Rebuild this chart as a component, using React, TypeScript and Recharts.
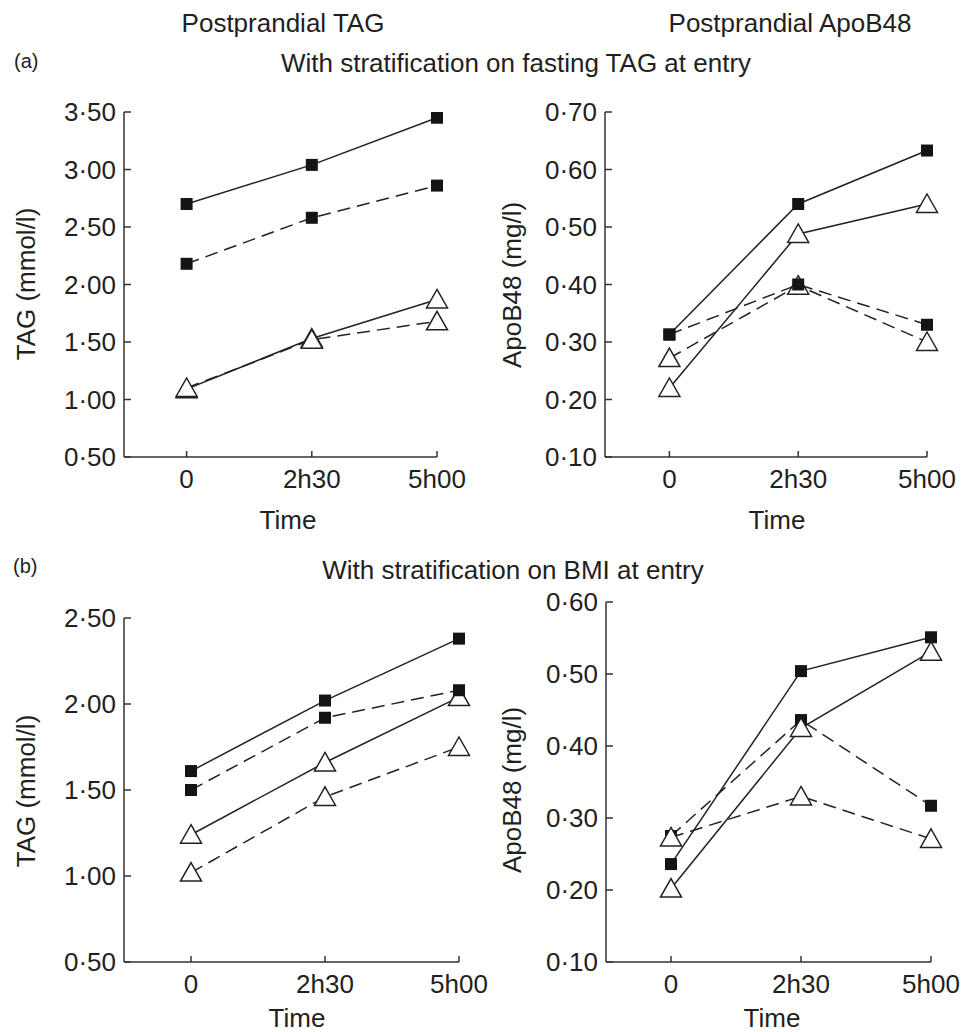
import React from 'react';
import { LineChart, Line, XAxis, YAxis } from 'recharts';

// time points on the x axis
const timeLabels = ['0', '2h30', '5h00'];

// (a) stratification on fasting TAG at entry
const aTagSolidSquare = [2.7, 3.04, 3.45];
const aTagDashedSquare = [2.18, 2.58, 2.86];
const aTagSolidTriangle = [1.09, 1.53, 1.87];
const aTagDashedTriangle = [1.1, 1.52, 1.68];

const aApoSolidSquare = [0.313, 0.54, 0.633];
const aApoDashedSquare = [0.313, 0.4, 0.33];
const aApoSolidTriangle = [0.22, 0.488, 0.54];
const aApoDashedTriangle = [0.272, 0.398, 0.3];

// (b) stratification on BMI at entry
const bTagSolidSquare = [1.61, 2.02, 2.38];
const bTagDashedSquare = [1.5, 1.92, 2.08];
const bTagSolidTriangle = [1.24, 1.66, 2.04];
const bTagDashedTriangle = [1.02, 1.46, 1.75];

const bApoSolidSquare = [0.236, 0.504, 0.551];
const bApoDashedSquare = [0.275, 0.436, 0.317];
const bApoSolidTriangle = [0.202, 0.425, 0.531];
const bApoDashedTriangle = [0.273, 0.33, 0.271];

// y tick values
const tagTicksA = [0.5, 1.0, 1.5, 2.0, 2.5, 3.0, 3.5];
const apoTicksA = [0.1, 0.2, 0.3, 0.4, 0.5, 0.6, 0.7];
const tagTicksB = [0.5, 1.0, 1.5, 2.0, 2.5];
const apoTicksB = [0.1, 0.2, 0.3, 0.4, 0.5, 0.6];

const INK = '#231f20';
const FONT = '"Liberation Sans", Arial, Helvetica, sans-serif';

const buildRows = (ss: number[], ds: number[], st: number[], dt: number[]) =>
  timeLabels.map((time, i) => ({ time, ss: ss[i], ds: ds[i], st: st[i], dt: dt[i] }));

const fmt = (v: number) => v.toFixed(2).replace('.', '\u00b7');

const Square = (p: any) => {
  if (p.cx == null || p.cy == null) return <g key={`sq-${p.index}`} />;
  return <rect key={`sq-${p.index}`} x={p.cx - 6} y={p.cy - 6} width={12} height={12} fill="#141414" />;
};

const Triangle = (p: any) => {
  if (p.cx == null || p.cy == null) return <g key={`tr-${p.index}`} />;
  const { cx, cy } = p;
  return (
    <polygon
      key={`tr-${p.index}`}
      points={`${cx},${cy - 10} ${cx + 10.5},${cy + 8.5} ${cx - 10.5},${cy + 8.5}`}
      fill="#fff"
      stroke="#222"
      strokeWidth={1.5}
    />
  );
};

interface Frame {
  fx: number; fy: number; fw: number; fh: number;
  l: number; r: number; t: number; b: number; pad: number;
}

interface PanelProps {
  frame: Frame;
  data: any[];
  domain: [number, number];
  ticks: number[];
  trianglesOnTop?: boolean;
}

const X_AXIS_H = 44;

const Panel: React.FC<PanelProps> = ({ frame, data, domain, ticks, trianglesOnTop }) => {
  const { fx, fy, fw, fh, l, r, t, b, pad } = frame;
  const triangles = [
    <Line key="st" dataKey="st" stroke="#222" strokeWidth={1.5} dot={Triangle} activeDot={false} isAnimationActive={false} />,
    <Line key="dt" dataKey="dt" stroke="#222" strokeWidth={1.5} strokeDasharray="13 7" dot={Triangle} activeDot={false} isAnimationActive={false} />,
  ];
  const squares = [
    <Line key="ss" dataKey="ss" stroke="#222" strokeWidth={1.5} dot={Square} activeDot={false} isAnimationActive={false} />,
    <Line key="ds" dataKey="ds" stroke="#222" strokeWidth={1.5} strokeDasharray="13 7" dot={Square} activeDot={false} isAnimationActive={false} />,
  ];
  return (
    <div style={{ position: 'absolute', left: fx, top: fy }}>
      <LineChart
        width={fw}
        height={fh}
        data={data}
        margin={{ top: t - fy, right: fx + fw - r, left: 0, bottom: fy + fh - b - X_AXIS_H }}
      >
        <XAxis
          dataKey="time"
          padding={{ left: pad, right: 0 }}
          height={X_AXIS_H}
          interval={0}
          tickSize={-6}
          tickMargin={18.5}
          stroke="#333"
          strokeWidth={1.5}
          tick={{ fill: INK, fontSize: 26, fontFamily: FONT }}
        />
        <YAxis
          type="number"
          domain={domain}
          ticks={ticks}
          width={l - fx}
          interval={0}
          tickSize={-7}
          tickMargin={15}
          tickFormatter={fmt}
          stroke="#333"
          strokeWidth={1.5}
          allowDataOverflow
          tick={{ fill: INK, fontSize: 26, fontFamily: FONT }}
        />
        {trianglesOnTop ? [...squares, ...triangles] : [...triangles, ...squares]}
      </LineChart>
    </div>
  );
};

const App: React.FC = () => {
  const aTag = buildRows(aTagSolidSquare, aTagDashedSquare, aTagSolidTriangle, aTagDashedTriangle);
  const aApo = buildRows(aApoSolidSquare, aApoDashedSquare, aApoSolidTriangle, aApoDashedTriangle);
  const bTag = buildRows(bTagSolidSquare, bTagDashedSquare, bTagSolidTriangle, bTagDashedTriangle);
  const bApo = buildRows(bApoSolidSquare, bApoDashedSquare, bApoSolidTriangle, bApoDashedTriangle);

  const txt = { fill: INK, fontFamily: FONT, fontSize: 26 };

  return (
    <div style={{ position: 'absolute', left: 0, top: 0, width: 963, height: 1032, background: '#fff', overflow: 'hidden' }}>
      <svg width={963} height={1032} style={{ position: 'absolute', left: 0, top: 0 }}>
        <text x={283} y={32} textAnchor="middle" {...txt}>Postprandial TAG</text>
        <text x={790} y={32} textAnchor="middle" {...txt}>Postprandial ApoB48</text>
        <text x={14} y={68} {...txt} fontSize={20}>(a)</text>
        <text x={516} y={72} textAnchor="middle" {...txt}>With stratification on fasting TAG at entry</text>
        <text x={13} y={573} {...txt} fontSize={20}>(b)</text>
        <text x={513} y={579} textAnchor="middle" {...txt}>With stratification on BMI at entry</text>
        <text x={288} y={529} textAnchor="middle" {...txt}>Time</text>
        <text x={777} y={529} textAnchor="middle" {...txt}>Time</text>
        <text x={297} y={1027} textAnchor="middle" {...txt}>Time</text>
        <text x={772} y={1027} textAnchor="middle" {...txt}>Time</text>
        <text x={26} y={284} dy="0.35em" textAnchor="middle" transform="rotate(-90 26 284)" {...txt}>TAG (mmol/l)</text>
        <text x={512} y={285} dy="0.35em" textAnchor="middle" transform="rotate(-90 512 285)" {...txt}>ApoB48 (mg/l)</text>
        <text x={26} y={791} dy="0.35em" textAnchor="middle" transform="rotate(-90 26 791)" {...txt}>TAG (mmol/l)</text>
        <text x={512} y={790} dy="0.35em" textAnchor="middle" transform="rotate(-90 512 790)" {...txt}>ApoB48 (mg/l)</text>
      </svg>
      <Panel frame={{ fx: 0, fy: 80, fw: 500, fh: 460, l: 124, r: 437, t: 112, b: 457, pad: 62.6 }} data={aTag} domain={[0.5, 3.5]} ticks={tagTicksA} />
      <Panel frame={{ fx: 480, fy: 80, fw: 483, fh: 460, l: 605, r: 927, t: 112, b: 457, pad: 64.4 }} data={aApo} domain={[0.1, 0.7]} ticks={apoTicksA} />
      <Panel frame={{ fx: 0, fy: 585, fw: 500, fh: 440, l: 124, r: 459, t: 618, b: 962, pad: 67 }} data={bTag} domain={[0.5, 2.5]} ticks={tagTicksB} />
      <Panel frame={{ fx: 480, fy: 585, fw: 483, fh: 440, l: 606, r: 931, t: 602, b: 962, pad: 65 }} data={bApo} domain={[0.1, 0.6]} ticks={apoTicksB} trianglesOnTop />
    </div>
  );
};

export default App;
